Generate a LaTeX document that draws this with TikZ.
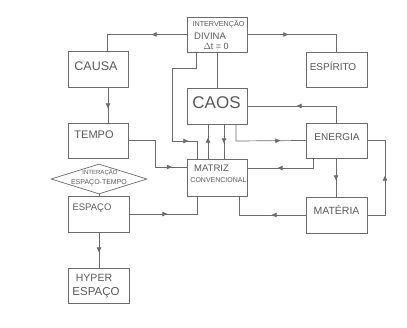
\documentclass[tikz,border=0pt]{standalone}
\usepackage{fontspec}
\newfontfamily\hand{Liberation Sans}
\usetikzlibrary{arrows.meta,decorations.markings,shapes.geometric}
\definecolor{ink}{gray}{0.42}
\definecolor{txt}{gray}{0.35}
\tikzset{
  box/.style={draw=ink, line width=0.7pt, rectangle, inner sep=0pt},
  lbl/.style={text=txt, inner sep=0pt, font=\hand},
  conn/.style={draw=ink, line width=0.7pt},
  am/.style={postaction={decorate,decoration={markings,
     mark=at position #1 with {\arrow[ink]{Triangle[length=5pt,width=4.5pt]}}}}}
}
\begin{document}
\begin{tikzpicture}[x=1pt,y=-1pt]
\useasboundingbox (0,0) rectangle (407,328);
% boxes
\node[box, minimum width=60pt, minimum height=35pt] (intv) at (217,34.5) {};
\node[box, minimum width=60pt, minimum height=36pt] (causa) at (98,69) {};
\node[box, minimum width=61pt, minimum height=35pt] (esp) at (336.5,69.5) {};
\node[box, minimum width=60pt, minimum height=36pt] (caos) at (217,106) {};
\node[box, minimum width=60pt, minimum height=35pt] (tempo) at (98,140.5) {};
\node[box, minimum width=61pt, minimum height=35pt] (energia) at (336.5,140.5) {};
\node[box, minimum width=60pt, minimum height=37pt] (matriz) at (217,177.5) {};
\node[box, minimum width=61pt, minimum height=36pt] (espaco) at (98.5,214) {};
\node[box, minimum width=61pt, minimum height=36pt] (materia) at (336.5,215) {};
\node[box, minimum width=61pt, minimum height=35pt] (hyper) at (98.5,285.5) {};
\node[draw=ink, line width=0.7pt, diamond, inner sep=0pt, minimum width=96pt, minimum height=30pt] (inter) at (99,179) {};
% texts
\node[lbl, font=\hand\fontsize{7.2}{8}\selectfont] (t1a) at (218.5,24) {INTERVENÇÃO};
\node[lbl, font=\hand\fontsize{9.5}{10}\selectfont] (t1b) at (210,36) {DIVINA};
\node[lbl, font=\hand\fontsize{9}{10}\selectfont] (t1c) at (216,46) {$\Delta$t = 0};
\node[lbl, font=\hand\fontsize{12.5}{13}\selectfont] (t2) at (96,66) {CAUSA};
\node[lbl, font=\hand\fontsize{10}{11}\selectfont] (t3) at (333,66) {ESPÍRITO};
\node[lbl, font=\hand\fontsize{17}{18}\selectfont] (t4) at (216.5,103) {CAOS};
\node[lbl, font=\hand\fontsize{11}{12}\selectfont] (t5) at (94,135) {TEMPO};
\node[lbl, font=\hand\fontsize{10}{11}\selectfont] (t6) at (337,137) {ENERGIA};
\node[lbl, font=\hand\fontsize{9.5}{10}\selectfont] (t7a) at (211.5,168) {MATRIZ};
\node[lbl, font=\hand\fontsize{7}{8}\selectfont] (t7b) at (218.5,180) {CONVENCIONAL};
\node[lbl, font=\hand\fontsize{9.5}{10}\selectfont] (t8) at (92,208) {ESPAÇO};
\node[lbl, font=\hand\fontsize{10.5}{11}\selectfont] (t9) at (336.5,210) {MATÉRIA};
\node[lbl, font=\hand\fontsize{10.5}{11}\selectfont] (t10a) at (94,278) {HYPER};
\node[lbl, font=\hand\fontsize{11.5}{12}\selectfont] (t10b) at (96,293) {ESPAÇO};
\node[lbl, font=\hand\fontsize{6}{7}\selectfont] (t11a) at (100,173) {INTERAÇÃO};
\node[lbl, font=\hand\fontsize{7}{8}\selectfont] (t11b) at (99,182.5) {ESPAÇO-TEMPO};
% connectors
\draw[conn, am=35pt] (intv.west) -- (107,34.5) -- (causa.north -| 107,0);
\draw[conn, am=41pt] (intv.east) -- (336,34.5) -- (esp.north -| 336,0);
\draw[conn, am=129pt] (intv.south -| 196,0) -- (196,68) -- (172,68) -- (172,141) -- (197,141) -- (matriz.north -| 197,0);
\draw[conn] (intv.south -| 217,0) -- (caos.north -| 217,0);
\draw[conn, am=56pt] (energia.north -| 336,0) -- (336,106) -- (caos.east);
\draw[conn, am=61pt] (caos.south -| 236,0) -- (236,141) -- (energia.west);
\draw[conn, am=21pt] (matriz.north -| 208,0) -- (caos.south -| 208,0);
\draw[conn, am=19pt] (caos.south -| 224,0) -- (matriz.north -| 224,0);
\draw[conn, am=70pt] (tempo.east) -- (155,140.5) -- (155,167) -- (matriz.west |- 0,167);
\draw[conn, am=21pt] (causa.south -| 108,0) -- (tempo.north -| 108,0);
\draw[conn, am=45pt] (energia.south -| 313,0) -- (313,168) -- (matriz.east |- 0,168);
\draw[conn, am=22pt] (energia.south -| 336,0) -- (materia.north -| 336,0);
\draw[conn, am=57pt] (materia.east) -- (385,215) -- (385,140.5) -- (energia.east);
\draw[conn, am=34pt] (materia.west) -- (239,215) -- (matriz.south -| 239,0);
\draw[conn, am=38pt] (espaco.east) -- (197,214) -- (matriz.south -| 197,0);
\draw[conn, am=20pt] (espaco.south -| 99,0) -- (hyper.north -| 99,0);
\draw[conn] (inter.south) -- (espaco.north -| inter.south);
\end{tikzpicture}
\end{document}
